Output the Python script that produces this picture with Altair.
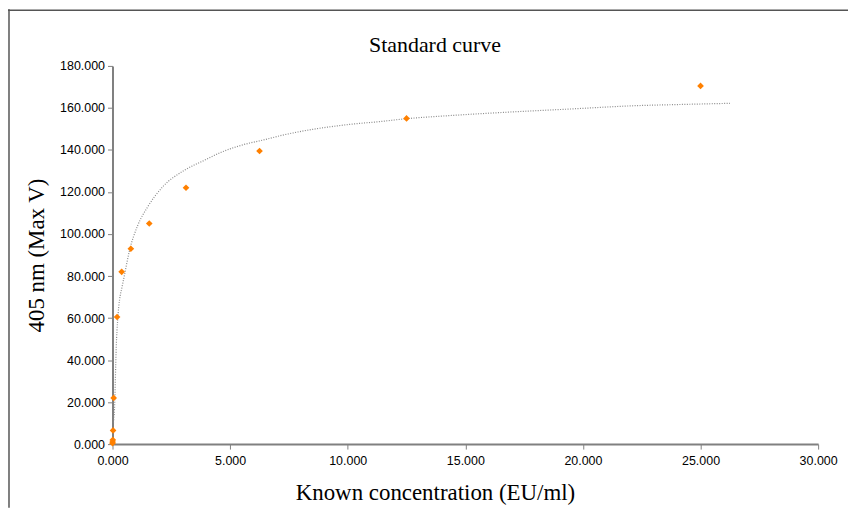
import altair as alt
import pandas as pd

# Measured standards (orange diamonds)
conc = [25.0, 12.5, 6.25, 3.125, 1.5625, 0.78, 0.39, 0.195, 0.049, 0.024, 0.012, 0.006, 0.0]
signal = [170.5, 155.0, 139.5, 122.0, 105.0, 93.0, 82.0, 60.5, 22.0, 6.5, 2.0, 1.0, 0.4]

# Fitted curve (dotted grey)
fit_x = [0.04, 0.085, 0.16, 0.22, 0.30, 0.40, 0.50, 0.72, 1.07, 1.50, 2.13, 3.05, 3.89,
         4.6, 5.59, 6.43, 7.21, 8.62, 10.03, 11.44, 12.43, 14.26, 16.66, 19.48, 22.3, 24.0, 26.25]
fit_y = [10.3, 16.6, 46.6, 59.2, 68.7, 74.5, 80.0, 92.0, 104.0, 113.0, 122.4, 130.3, 135.0,
         138.8, 142.6, 144.8, 147.0, 150.0, 152.1, 153.6, 154.8, 156.3, 157.9, 159.5, 161.1, 161.6, 162.2]

x_ticks = [0, 5, 10, 15, 20, 25, 30]
y_ticks = [0, 20, 40, 60, 80, 100, 120, 140, 160, 180]
title_text = ["Standard curve"]

pts = pd.DataFrame({"x": conc, "y": signal})
fit = pd.DataFrame({"x": fit_x, "y": fit_y})
ttl = pd.DataFrame({"t": title_text})

W, H = 709, 380
serif = "Liberation Serif"
sans = "Liberation Sans"

xs = alt.Scale(domain=[0, 30], nice=False, zero=True)
ys = alt.Scale(domain=[0, 180], nice=False, zero=True)

x_enc = alt.X("x:Q", scale=xs, axis=alt.Axis(
    values=x_ticks, format=".3f", title="Known concentration (EU/ml)",
    titleX=324, titleY=56, titleBaseline="alphabetic", titleAnchor="middle",
    labelPadding=5))
y_enc = alt.Y("y:Q", scale=ys, axis=alt.Axis(
    values=y_ticks, format=".3f", title="405 nm (Max V)", titlePadding=11))

curve = alt.Chart(fit).mark_line(
    color="#8a8a8a", strokeWidth=1.2, strokeDash=[1, 1.5], interpolate="monotone"
).encode(x=x_enc, y=y_enc)

dots = alt.Chart(pts).mark_point(
    shape="diamond", filled=True, size=45, color="#ff8000", opacity=1
).encode(x="x:Q", y="y:Q")

title_mark = alt.Chart(ttl).mark_text(
    font=serif, fontSize=22, color="#000000", align="center", baseline="alphabetic"
).encode(text="t:N", x=alt.value(324), y=alt.value(-14))

frame_left = alt.Chart(ttl).mark_rule(color="#555555", strokeWidth=1.5).encode(
    x=alt.value(-104), y=alt.value(-57), y2=alt.value(H + 64))
frame_top = alt.Chart(ttl).mark_rule(color="#555555", strokeWidth=1.5).encode(
    x=alt.value(-105), x2=alt.value(W + 30), y=alt.value(-56))

chart = alt.layer(curve, dots, title_mark, frame_left, frame_top).properties(
    width=W, height=H,
    autosize=alt.AutoSizeParams(type="none"),
    padding={"left": 105, "top": 57, "right": 30, "bottom": 64},
    background="white",
).configure_view(stroke=None).configure_axis(
    grid=False, domainColor="#808080", domainWidth=2, tickColor="#808080",
    tickSize=5, tickWidth=1, labelFont=sans, labelFontSize=12.5, labelColor="#000000",
    labelPadding=3, labelFlush=False, titleFont=serif, titleFontSize=23,
    titleFontWeight="normal", titleColor="#000000"
)

chart.save("out.html", embed_options={"renderer": "svg", "actions": False})
